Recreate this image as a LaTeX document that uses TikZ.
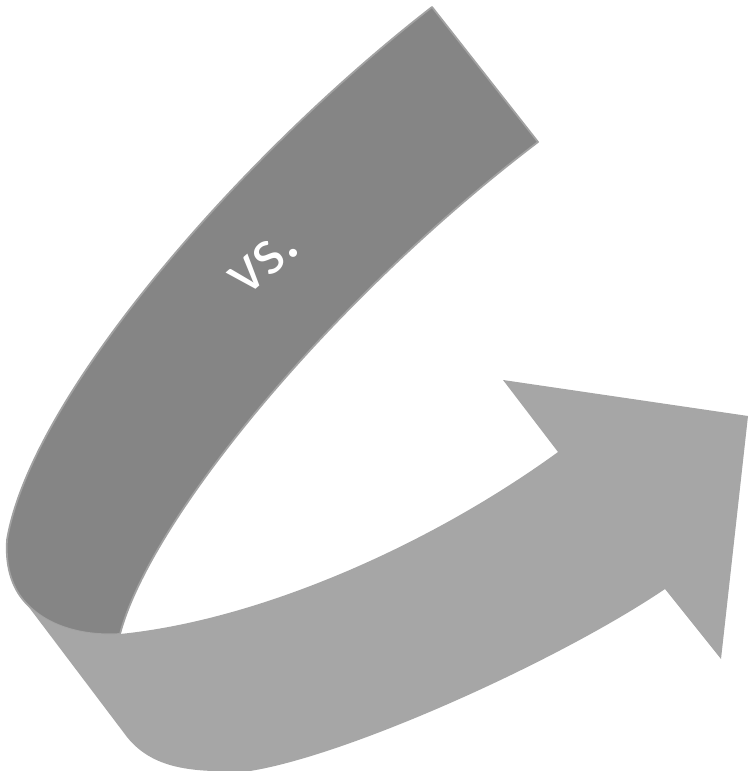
\documentclass[tikz,border=0pt]{standalone}
\usepackage{fontspec}
\setsansfont{Carlito}
\definecolor{bandDark}{HTML}{858585}
\definecolor{bandLight}{HTML}{A6A6A6}
\definecolor{bandEdge}{HTML}{A2A2A2}

\begin{document}
\begin{tikzpicture}[x=0.01cm, y=-0.01cm,
  backband/.style={fill=bandDark, draw=bandEdge, line width=0.5pt, line join=round},
  frontband/.style={fill=bandLight, draw=none},
  lbl/.style={font=\sffamily\fontsize{19}{21}\selectfont, text=white, rotate=41}
]
  \useasboundingbox (0,0) rectangle (748,771);

  \coordinate (tail1) at (432,7);
  \coordinate (tail2) at (538,142);
  \coordinate (fold)  at (120,634);
  \coordinate (outer) at (25,602);

  % back part of the ribbon
  \draw[backband] (tail1) .. controls (235,160) and (30,400) .. (7,540)
    .. controls (5,570) and (14,590) .. (outer)
    .. controls (50,630) and (90,636) .. (fold)
    .. controls (150,520) and (330,300) .. (tail2) -- cycle;

  % front part with the arrow head
  \coordinate (notchU) at (558,452);
  \coordinate (barbU)  at (503,380);
  \coordinate (tip)    at (748,416);
  \coordinate (barbL)  at (721,659);
  \coordinate (notchL) at (665,589);

  \fill[frontband] (outer) -- (127,737) .. controls (155,772) and (200,772) .. (250,771)
    .. controls (350,755) and (560,660) .. (notchL)
    -- (barbL) -- (tip) -- (barbU) -- (notchU)
    .. controls (430,545) and (260,620) .. (fold)
    .. controls (90,636) and (50,630) .. (outer) -- cycle;

  \node[lbl] (vs) at (264,262) {vs.};
\end{tikzpicture}
\end{document}
